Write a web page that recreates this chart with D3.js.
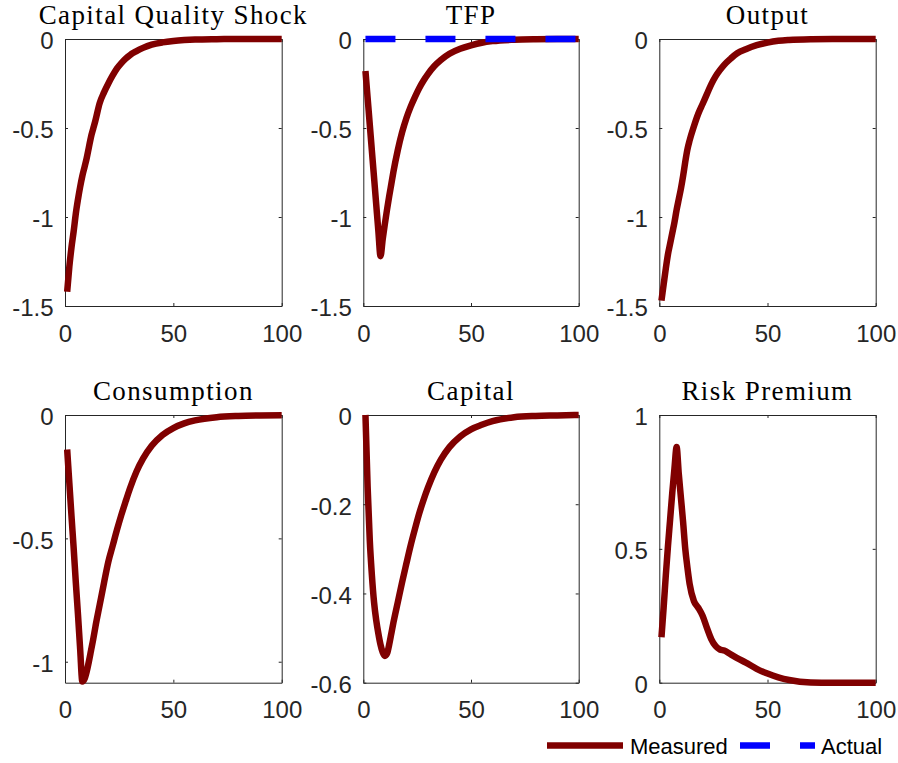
<!DOCTYPE html>
<html><head><meta charset="utf-8">
<script src="https://cdn.jsdelivr.net/npm/d3@7"></script>
<style>
html,body{margin:0;padding:0;background:#fff;}
svg{display:block;}
</style></head>
<body>
<svg id="chart" width="898" height="763"></svg>
<script>
// ---- data ----
const periods = [1,2,3,4,5,6,7,8,9,10,11,12,13,14,16,18,20,22,24,26,28,30,33,36,40,45,50,55,60,70,80,90,100];
const capitalQuality = [-1.42,-1.28,-1.17,-1.08,-0.98,-0.90,-0.83,-0.77,-0.72,-0.67,-0.61,-0.55,-0.505,-0.46,-0.36,-0.30,-0.25,-0.205,-0.165,-0.135,-0.11,-0.09,-0.068,-0.05,-0.032,-0.019,-0.011,-0.006,-0.003,-0.001,0,0,0];
const tfpMeasured = [-0.18,-0.33,-0.48,-0.63,-0.78,-0.93,-1.08,-1.22,-1.125,-1.04,-0.96,-0.885,-0.815,-0.745,-0.625,-0.525,-0.445,-0.38,-0.325,-0.275,-0.233,-0.197,-0.152,-0.118,-0.083,-0.055,-0.036,-0.021,-0.012,-0.004,-0.001,0,0];
const tfpActual = [0,0,0,0,0,0,0,0,0,0,0,0,0,0,0,0,0,0,0,0,0,0,0,0,0,0,0,0,0,0,0,0,0];
const output = [-1.47,-1.38,-1.29,-1.21,-1.15,-1.09,-1.03,-0.96,-0.90,-0.84,-0.77,-0.69,-0.62,-0.57,-0.49,-0.42,-0.365,-0.31,-0.255,-0.21,-0.175,-0.145,-0.11,-0.08,-0.057,-0.035,-0.02,-0.01,-0.005,-0.001,0,0,0];
const consumption = [-0.14,-0.275,-0.41,-0.54,-0.68,-0.81,-0.95,-1.08,-1.07,-1.04,-1.0,-0.955,-0.91,-0.86,-0.77,-0.68,-0.595,-0.53,-0.465,-0.405,-0.35,-0.297,-0.229,-0.177,-0.125,-0.081,-0.053,-0.034,-0.022,-0.009,-0.004,-0.002,-0.001];
const capital = [0,-0.16,-0.28,-0.36,-0.42,-0.46,-0.49,-0.515,-0.532,-0.54,-0.535,-0.515,-0.49,-0.465,-0.42,-0.375,-0.333,-0.292,-0.255,-0.22,-0.19,-0.163,-0.128,-0.1,-0.072,-0.048,-0.032,-0.022,-0.014,-0.005,-0.002,-0.001,0];
const riskPremium = [0.17,0.28,0.40,0.51,0.61,0.71,0.80,0.88,0.78,0.69,0.60,0.50,0.43,0.37,0.305,0.28,0.25,0.205,0.163,0.137,0.124,0.12,0.106,0.092,0.075,0.052,0.034,0.02,0.01,0.001,0,0,0];

const titles = ["Capital Quality Shock","TFP","Output","Consumption","Capital","Risk Premium"];
const xTicks = [0,50,100];
const yTicksTop = [-1.5,-1,-0.5,0];
const yTicksConsumption = [-1,-0.5,0];
const yTicksCapital = [-0.6,-0.4,-0.2,0];
const yTicksRisk = [0,0.5,1];
const legendLabels = ["Measured","Actual"];

// ---- layout ----
const cols = [[65,281.7],[363.3,578.7],[659.3,875.7]];
const rows = [[39,306],[415,682.7]];
const red = "#800000", blue = "#0000ff", axisCol = "#262626";
const sansFont = "'Liberation Sans', Arial, Helvetica, sans-serif";

const panels = [
  {title:titles[0], series:[capitalQuality], dom:[-1.5,0], ticks:yTicksTop, c:0, r:0},
  {title:titles[1], series:[tfpMeasured, tfpActual], dom:[-1.5,0], ticks:yTicksTop, c:1, r:0},
  {title:titles[2], series:[output], dom:[-1.5,0], ticks:yTicksTop, c:2, r:0},
  {title:titles[3], series:[consumption], dom:[-1.085,0], ticks:yTicksConsumption, c:0, r:1},
  {title:titles[4], series:[capital], dom:[-0.6,0], ticks:yTicksCapital, c:1, r:1},
  {title:titles[5], series:[riskPremium], dom:[0,1], ticks:yTicksRisk, c:2, r:1}
];

const svg = d3.select("#chart");
const fmt = d => String(d);

panels.forEach(p => {
  const [x0,x1] = cols[p.c], [y0,y1] = rows[p.r];
  const x = d3.scaleLinear().domain([0,100]).range([x0,x1]);
  const y = d3.scaleLinear().domain(p.dom).range([y1,y0]);
  const g = svg.append("g");

  const styleAxis = sel => {
    sel.attr("font-family",null).attr("font-size",null);
    sel.selectAll("path.domain").attr("stroke", axisCol).attr("stroke-width",1);
    sel.selectAll(".tick line").attr("stroke", axisCol).attr("stroke-width",1);
    sel.selectAll("text").attr("fill", axisCol).style("font-family",sansFont).style("font-size","24px");
  };

  g.append("g").attr("transform",`translate(0,${y1})`)
    .call(d3.axisBottom(x).tickValues(xTicks).tickFormat(fmt).tickSizeInner(-3).tickSizeOuter(0).tickPadding(18.5))
    .call(styleAxis);
  g.append("g").attr("transform",`translate(0,${y0})`)
    .call(d3.axisTop(x).tickValues(xTicks).tickFormat("").tickSizeInner(-3).tickSizeOuter(0))
    .call(styleAxis);
  g.append("g").attr("transform",`translate(${x0},0)`)
    .call(d3.axisLeft(y).tickValues(p.ticks).tickFormat(fmt).tickSizeInner(-3).tickSizeOuter(0).tickPadding(11.5))
    .call(styleAxis)
    .call(s => s.selectAll("text").attr("dy","0.41em"));
  g.append("g").attr("transform",`translate(${x1},0)`)
    .call(d3.axisRight(y).tickValues(p.ticks).tickFormat("").tickSizeInner(-3).tickSizeOuter(0))
    .call(styleAxis);

  const line = d3.line().x((d,i)=>x(periods[i])).y(d=>y(d)).curve(d3.curveMonotoneX);
  p.series.forEach((s,k) => {
    g.append("path").datum(s).attr("d", line)
      .attr("fill","none")
      .attr("stroke", k===0 ? red : blue)
      .attr("stroke-width", 6.5)
      .attr("stroke-linejoin","round")
      .attr("stroke-linecap","butt")
      .attr("stroke-dasharray", k===0 ? null : "30,30");
  });

  g.append("text")
    .attr("x",(x0+x1)/2).attr("y",y0-15)
    .attr("text-anchor","middle")
    .style("font-family","'Liberation Serif','Times New Roman',serif")
    .style("font-size","27px")
    .style("letter-spacing","1.4px")
    .attr("fill","#000")
    .text(p.title);
});

// ---- legend ----
const lg = svg.append("g");
lg.append("line").attr("x1",547).attr("x2",623).attr("y1",745.5).attr("y2",745.5)
  .attr("stroke",red).attr("stroke-width",6.5);
lg.append("text").attr("x",630).attr("y",754).text(legendLabels[0])
  .style("font-family",sansFont).style("font-size","22px").attr("fill","#000");
lg.append("line").attr("x1",740).attr("x2",815).attr("y1",745.5).attr("y2",745.5)
  .attr("stroke",blue).attr("stroke-width",6.5).attr("stroke-dasharray","30,30");
lg.append("text").attr("x",821).attr("y",754).text(legendLabels[1])
  .style("font-family",sansFont).style("font-size","22px").attr("fill","#000");
</script>
</body></html>
